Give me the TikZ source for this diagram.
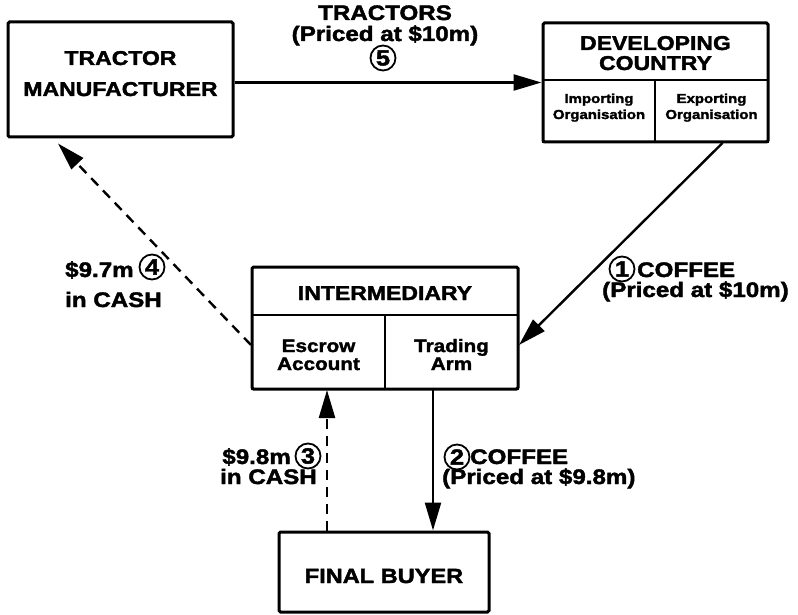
\documentclass[tikz,border=0pt]{standalone}
\usepackage{fontspec}
\setmainfont{Liberation Sans}[FakeStretch=1.15, BoldFont={Liberation Sans Bold}, BoldFeatures={FakeBold=2}]
\usetikzlibrary{arrows.meta}

\tikzset{
  box/.style={draw, line width=3pt, rounded corners=1.5pt, inner sep=0pt},
  cell/.style={draw, line width=2pt, inner sep=0pt},
  title/.style={font=\fontsize{20}{20}\selectfont\bfseries, inner sep=0pt, anchor=base},
  small/.style={font=\fontsize{13}{13}\selectfont\bfseries, inner sep=0pt, anchor=base},
  sub/.style={font=\fontsize{18}{18}\selectfont\bfseries, inner sep=0pt, anchor=base},
  lbl/.style={font=\fontsize{21}{21}\selectfont\bfseries, inner sep=0pt},
  numcirc/.style={circle, draw, line width=1.8pt, minimum size=25pt, inner sep=0pt,
                  font=\fontsize{22}{22}\selectfont\bfseries},
  flow/.style={line width=2.4pt, -{Triangle[length=28pt, width=16pt]}},
  cash/.style={flow, dash pattern=on 10pt off 7pt},
}

\begin{document}
\begin{tikzpicture}[x=1pt, y=-1pt]
\useasboundingbox (0,0) rectangle (798,615);

% Tractor manufacturer
\node[box, minimum width=225pt, minimum height=115pt] (tm) at (120.5,79.5) {};
\node[title] (tmA) at (120.5,65) {TRACTOR};
\node[title] (tmB) at (120.5,96) {MANUFACTURER};

% Developing country with its two organisations
\node[cell, minimum width=112pt, minimum height=62pt] (dcimp) at (599,111) {};
\node[cell, minimum width=113pt, minimum height=62pt] (dcexp) at (711.5,111) {};
\node[box, minimum width=225pt, minimum height=119pt] (dc) at (655.5,82.5) {};
\node[title] (dcA) at (655.5,50) {DEVELOPING};
\node[title] (dcB) at (655.5,70) {COUNTRY};
\node[small] (impA) at (599,103) {Importing};
\node[small] (impB) at (599,119) {Organisation};
\node[small] (expA) at (711.5,103) {Exporting};
\node[small] (expB) at (711.5,119) {Organisation};

% Intermediary with escrow account and trading arm
\node[cell, minimum width=133pt, minimum height=74pt] (escrow) at (318.5,352) {};
\node[cell, minimum width=133pt, minimum height=74pt] (arm) at (451.5,352) {};
\node[box, minimum width=266pt, minimum height=122pt] (int) at (385,328) {};
\node[title] (intA) at (385,300) {INTERMEDIARY};
\node[sub] (escA) at (318.5,352) {Escrow};
\node[sub] (escB) at (318.5,370) {Account};
\node[sub] (armA) at (451.5,352) {Trading};
\node[sub] (armB) at (451.5,370) {Arm};

% Final buyer
\node[box, minimum width=210pt, minimum height=80pt] (fb) at (384,572) {};
\node[title, font=\fontsize{20.5}{20.5}\selectfont\bfseries] (fbA) at (384,583) {FINAL BUYER};

% Flows of goods
\draw[flow] (tm.east |- dc.west) -- (dc.west);
\draw[flow] ([xshift=11pt]dcexp.south) -- ([yshift=7pt]arm.east);
\draw[flow] ([xshift=-18.5pt]arm.south) -- ([xshift=49pt]fb.north);

% Flows of cash
\draw[cash] ([xshift=-57pt]fb.north) -- ([xshift=8.5pt]escrow.south);
\draw[cash] ([yshift=7pt]escrow.west) -- ([xshift=-62.5pt,yshift=-5pt]tm.south);

% Step 5
\node[lbl, anchor=base] (l5a) at (385,20) {TRACTORS};
\node[lbl, anchor=base] (l5b) at (385,41) {(Priced at \$10m)};
\node[numcirc] (n5) at (383,58) {5};

% Step 1
\node[numcirc] (n1) at (622,269) {1};
\node[lbl, anchor=base west] (l1a) at (637,277) {COFFEE};
\node[lbl, anchor=base west] (l1b) at (602,297) {(Priced at \$10m)};

% Step 2
\node[numcirc] (n2) at (457,457) {2};
\node[lbl, anchor=base west] (l2a) at (470,464) {COFFEE};
\node[lbl, anchor=base west] (l2b) at (442,484) {(Priced at \$9.8m)};

% Step 3
\node[lbl, anchor=base east] (l3a) at (291,464) {\$9.8m};
\node[numcirc] (n3) at (308,456) {3};
\node[lbl, anchor=base east] (l3b) at (317,484) {in CASH};

% Step 4
\node[lbl, anchor=base west] (l4a) at (65,277) {\$9.7m};
\node[numcirc] (n4) at (152,267) {4};
\node[lbl, anchor=base west] (l4b) at (65,307) {in CASH};
\end{tikzpicture}
\end{document}
